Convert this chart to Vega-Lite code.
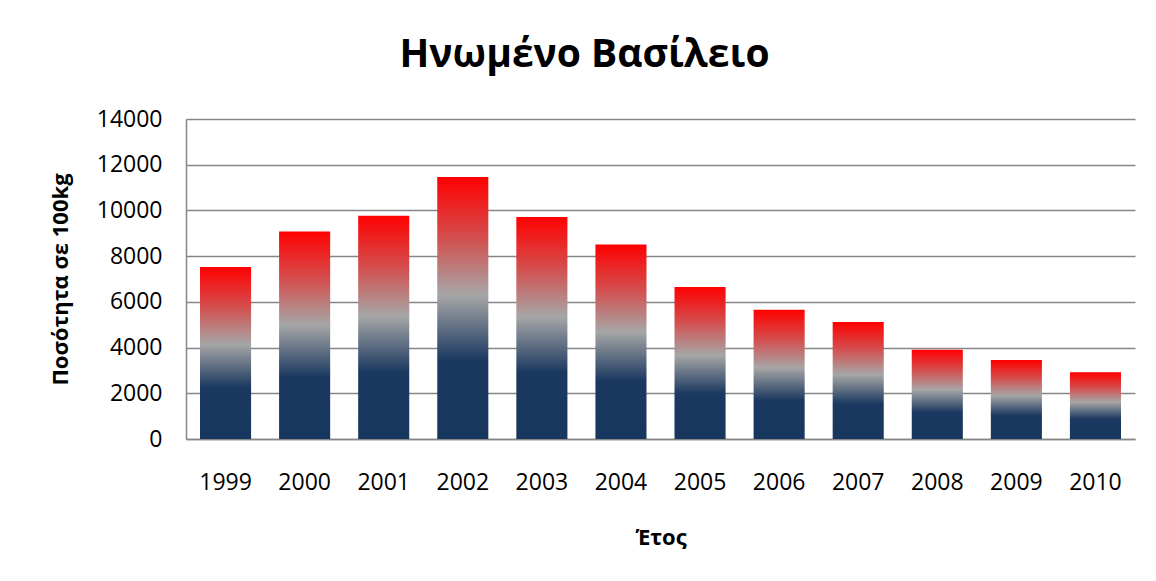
{
  "$schema": "https://vega.github.io/schema/vega-lite/v6.json",
  "autosize": {"type": "none"},
  "width": 949,
  "height": 320,
  "padding": {"left": 186, "top": 119, "right": 21, "bottom": 142},
  "background": "white",
  "title": {
    "text": "Ηνωμένο Βασίλειο",
    "font": "Open Sans",
    "fontSize": 39,
    "fontWeight": "bold",
    "color": "#000000",
    "anchor": "middle",
    "frame": "group",
    "dx": -76,
    "baseline": "alphabetic",
    "offset": 2
  },
  "data": {
    "values": [
      {"year": "1999", "value": 7520},
      {"year": "2000", "value": 9080},
      {"year": "2001", "value": 9770},
      {"year": "2002", "value": 11460},
      {"year": "2003", "value": 9710},
      {"year": "2004", "value": 8510},
      {"year": "2005", "value": 6650},
      {"year": "2006", "value": 5655},
      {"year": "2007", "value": 5120},
      {"year": "2008", "value": 3905},
      {"year": "2009", "value": 3455},
      {"year": "2010", "value": 2915}
    ]
  },
  "mark": {
    "type": "bar",
    "color": {
      "gradient": "linear",
      "x1": 0, "y1": 1, "x2": 0, "y2": 0,
      "stops": [
        {"offset": 0, "color": "#17375E"},
        {"offset": 0.3, "color": "#1B3960"},
        {"offset": 0.55, "color": "#A6A6A6"},
        {"offset": 0.78, "color": "#D64A4A"},
        {"offset": 1, "color": "#FF0000"}
      ]
    }
  },
  "encoding": {
    "x": {
      "field": "year",
      "type": "ordinal",
      "scale": {"paddingInner": 0.354, "paddingOuter": 0.177},
      "axis": {
        "title": "Έτος",
        "labelAngle": 0,
        "ticks": false,
        "grid": false,
        "domainColor": "#868686",
        "domainWidth": 1.5,
        "labelFont": "Open Sans",
        "labelFontSize": 23,
        "labelColor": "#000000",
        "labelPadding": 32,
        "titleFont": "Open Sans",
        "titleFontSize": 22,
        "titleFontWeight": "bold",
        "titleColor": "#000000",
        "titleY": 98,
        "titleBaseline": "middle"
      }
    },
    "y": {
      "field": "value",
      "type": "quantitative",
      "scale": {"domain": [0, 14000], "nice": false},
      "axis": {
        "title": "Ποσότητα σε 100kg",
        "values": [0, 2000, 4000, 6000, 8000, 10000, 12000, 14000],
        "format": "d",
        "ticks": false,
        "grid": true,
        "gridColor": "#868686",
        "gridWidth": 1.3,
        "domainColor": "#868686",
        "domainWidth": 1.5,
        "labelFont": "Open Sans",
        "labelFontSize": 23,
        "labelColor": "#000000",
        "labelPadding": 24,
        "titleFont": "Open Sans",
        "titleFontSize": 22,
        "titleFontWeight": "bold",
        "titleColor": "#000000",
        "titleX": -126,
        "titleY": 160,
        "titleAngle": -90,
        "titleAlign": "center",
        "titleBaseline": "middle"
      }
    }
  },
  "config": {
    "view": {"stroke": null}
  }
}
